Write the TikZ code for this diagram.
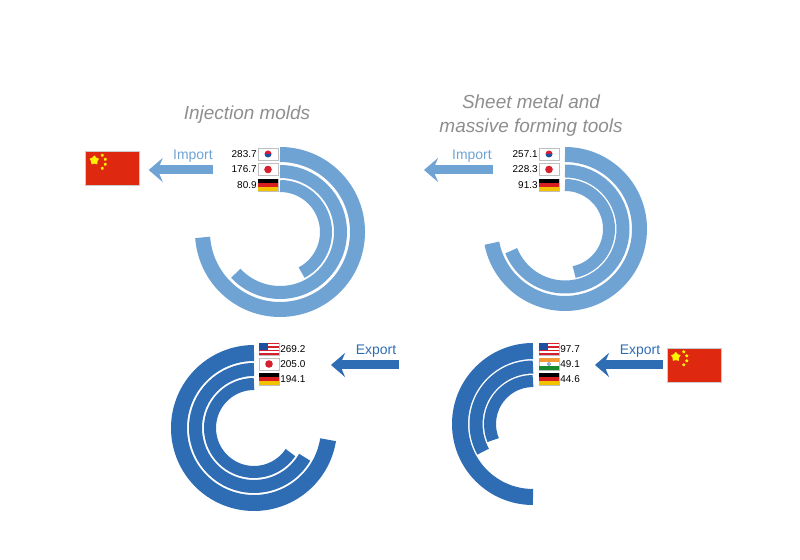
\documentclass[tikz,border=0pt]{standalone}
\usepackage{fontspec}
\setmainfont{Liberation Sans}
\usetikzlibrary{shapes.geometric}
\usetikzlibrary{arrows.meta}
\usetikzlibrary{calc}

\definecolor{lightring}{HTML}{6FA3D4}
\definecolor{darkring}{HTML}{2E6DB4}
\definecolor{titlegray}{HTML}{8E8E8E}
\definecolor{krred}{HTML}{D62030}
\definecolor{krblue}{HTML}{1F4FA0}
\definecolor{degold}{HTML}{F2C200}
\definecolor{dered}{HTML}{D81E1E}
\definecolor{insaffron}{HTML}{F49A35}
\definecolor{ingreen}{HTML}{178A2E}
\definecolor{cnred}{HTML}{DE2910}

\tikzset{
  flagbox/.style={draw=gray!50, fill=white, rectangle, inner sep=0pt, minimum width=20bp, minimum height=12bp},
  bigflag/.style={draw=gray!40, fill=cnred, rectangle, inner sep=0pt, minimum width=54bp, minimum height=34bp},
  value/.style={font=\fontsize{10}{12}\selectfont, inner sep=1pt},
  tradelabel/.style={font=\fontsize{14}{16}\selectfont, inner sep=0pt},
  plottitle/.style={font=\itshape\fontsize{19}{24}\selectfont, text=titlegray, align=center},
  arrowline/.style={line width=9bp, -{Stealth[length=14bp, width=24bp, inset=5bp]}},
}

\newcommand{\flagkr}[2]{\node[flagbox] (#1) at (#2) {};
  \fill[krred] ($(#1.center)+(3.5,0)$) arc (0:180:3.5) -- cycle;
  \fill[krblue] ($(#1.center)+(3.5,0)$) arc (0:-180:3.5) -- cycle;}
\newcommand{\flagjp}[2]{\node[flagbox] (#1) at (#2) {};
  \fill[krred] (#1.center) circle (3.8);}
\newcommand{\flagde}[2]{\node[flagbox] (#1) at (#2) {};
  \fill[black] (#1.north west) rectangle ($(#1.east)+(0,2)$);
  \fill[dered] ($(#1.west)+(0,2)$) rectangle ($(#1.east)+(0,-2)$);
  \fill[degold] ($(#1.west)+(0,-2)$) rectangle (#1.south east);}
\newcommand{\flagus}[2]{\node[flagbox] (#1) at (#2) {};
  \foreach \k in {0,2,4,6} \fill[krred] ($(#1.north west)+(0,-1.7*\k)$) rectangle ++(20,-1.7);
  \fill[krblue] (#1.north west) rectangle ++(9,-6.8);}
\newcommand{\flagin}[2]{\node[flagbox] (#1) at (#2) {};
  \fill[insaffron] (#1.north west) rectangle ($(#1.east)+(0,2)$);
  \fill[ingreen] ($(#1.west)+(0,-2)$) rectangle (#1.south east);
  \draw[krblue, line width=0.5bp] (#1.center) circle (1.6);}
\newcommand{\flagcn}[2]{\node[bigflag] (#1) at (#2) {};
  \node[star, star points=5, fill=yellow, inner sep=0pt, minimum size=10bp] at ($(#1.north west)+(9,-9)$) {};
  \foreach \px/\py in {17/-4,20/-8,20/-13,17/-17}
    \node[star, star points=5, fill=yellow, inner sep=0pt, minimum size=3.5bp] at ($(#1.north west)+(\px,\py)$) {};}

\begin{document}
\begin{tikzpicture}[x=1bp, y=1bp]
\useasboundingbox (0,0) rectangle (800,560);

% titles
\node[plottitle] (titleA) at (247,445) {Injection molds};
\node[plottitle] (titleB) at (531,444) {Sheet metal and\\massive forming tools};

% import rings, injection molds
\coordinate (cA) at (280,328);
\draw[lightring, line width=15bp] ($(cA)+(90:77.5)$) arc (90:-176:77.5);
\draw[lightring, line width=13bp] ($(cA)+(90:60.5)$) arc (90:-137:60.5);
\draw[lightring, line width=12bp] ($(cA)+(90:46)$) arc (90:-62:46);
\flagkr{krA}{268,406}
\flagjp{jpA}{268,390.5}
\flagde{deA}{268,375}
\node[value, anchor=east] (vA1) at (krA.west) {283.7};
\node[value, anchor=east] (vA2) at (jpA.west) {176.7};
\node[value, anchor=east] (vA3) at (deA.west) {80.9};
\flagcn{cnA}{112.5,391.5}
\coordinate (impA) at (213,390);
\draw[arrowline, lightring] (impA) -- ($(cnA.east)+(9,-1.5)$);
\node[tradelabel, text=lightring] (lblA) at (193,404) {Import};

% import rings, forming tools
\coordinate (cB) at (565,331);
\draw[lightring, line width=15bp] ($(cB)+(90:74.5)$) arc (90:-169:74.5);
\draw[lightring, line width=13bp] ($(cB)+(90:58)$) arc (90:-158:58);
\draw[lightring, line width=12bp] ($(cB)+(90:44)$) arc (90:-78:44);
\flagkr{krB}{549,406}
\flagjp{jpB}{549,390.5}
\flagde{deB}{549,375}
\node[value, anchor=east] (vB1) at (krB.west) {257.1};
\node[value, anchor=east] (vB2) at (jpB.west) {228.3};
\node[value, anchor=east] (vB3) at (deB.west) {91.3};
\coordinate (impB) at (493,390);
\coordinate (impBend) at (424,390);
\draw[arrowline, lightring] (impB) -- (impBend);
\node[tradelabel, text=lightring] (lblB) at (472,404) {Import};

% export rings, injection molds
\coordinate (cC) at (254,132);
\draw[darkring, line width=16bp] ($(cC)+(90:75)$) arc (90:351:75);
\draw[darkring, line width=13bp] ($(cC)+(90:58.5)$) arc (90:330:58.5);
\draw[darkring, line width=12bp] ($(cC)+(90:44)$) arc (90:326:44);
\flagus{usC}{269,211}
\flagjp{jpC}{269,196}
\flagde{deC}{269,181}
\node[value, anchor=west] (vC1) at (usC.east) {269.2};
\node[value, anchor=west] (vC2) at (jpC.east) {205.0};
\node[value, anchor=west] (vC3) at (deC.east) {194.1};
\coordinate (expC) at (399,195);
\coordinate (expCend) at (331,195);
\draw[arrowline, darkring] (expC) -- (expCend);
\node[tradelabel, text=darkring] (lblC) at (376,209) {Export};

% export rings, forming tools
\coordinate (cD) at (533,136);
\draw[darkring, line width=16bp] ($(cD)+(90:73)$) arc (90:270:73);
\draw[darkring, line width=13bp] ($(cD)+(90:57)$) arc (90:209:57);
\draw[darkring, line width=12bp] ($(cD)+(90:43)$) arc (90:202:43);
\flagus{usD}{549,211}
\flagin{inD}{549,196}
\flagde{deD}{549,181}
\node[value, anchor=west] (vD1) at (usD.east) {97.7};
\node[value, anchor=west] (vD2) at (inD.east) {49.1};
\node[value, anchor=west] (vD3) at (deD.east) {44.6};
\flagcn{cnD}{694,195}
\draw[arrowline, darkring] ($(cnD.west)+(-4,0)$) -- (595,195);
\node[tradelabel, text=darkring] (lblD) at (640,209) {Export};

\end{tikzpicture}
\end{document}
